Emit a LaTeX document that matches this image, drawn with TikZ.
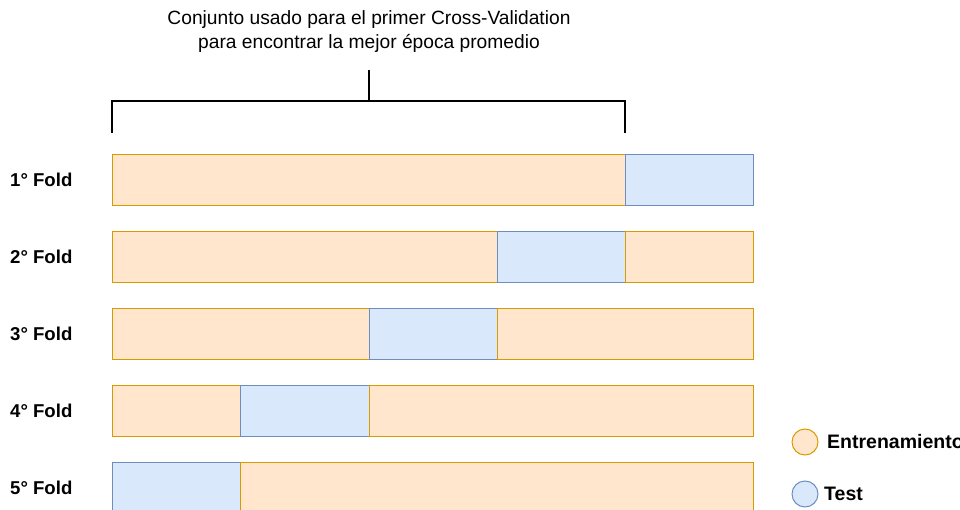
\documentclass[tikz,border=0pt]{standalone}
\usepackage{fontspec}
\setmainfont{Liberation Sans}
\begin{document}
\begin{tikzpicture}[x=1pt,y=-1pt,
  trainbox/.style={draw=orangeS,fill=orangeF,line width=1pt,minimum height=51pt,inner sep=0pt,anchor=north west},
  testbox/.style={draw=blueS,fill=blueF,line width=1pt,minimum height=51pt,inner sep=0pt,anchor=north west},
  foldlbl/.style={font=\bfseries\fontsize{18.6}{20}\selectfont,anchor=west,inner sep=0pt},
  legtxt/.style={font=\bfseries\fontsize{19.5}{20}\selectfont,anchor=west,inner sep=0pt},
  bracket/.style={line width=2.2pt}
]
\definecolor{orangeF}{HTML}{FFE6CC}
\definecolor{orangeS}{HTML}{D79B00}
\definecolor{blueF}{HTML}{DAE8FC}
\definecolor{blueS}{HTML}{6C8EBF}
\useasboundingbox (0,0) rectangle (960,510);
\clip (0,0) rectangle (960,510);
% title
\node[align=center,font=\fontsize{19.2}{24}\selectfont,inner sep=0pt] (title) at (369,32) {Conjunto usado para el primer Cross-Validation\\para encontrar la mejor época promedio};
% bracket
\coordinate (bl) at (112,133);
\coordinate (blt) at (112,101);
\coordinate (brt) at (625,101);
\coordinate (br) at (625,133);
\coordinate (bm) at (369,101);
\coordinate (bs) at (369,70);
\draw[bracket] (bl) -- (blt) -- (brt) -- (br);
\draw[bracket] (bm) -- (bs);
% row 1
\node[trainbox,minimum width=513pt] (r1a) at (112,154) {};
\node[testbox,minimum width=128pt] (r1b) at (625,154) {};
% row 2
\node[trainbox,minimum width=385pt] (r2a) at (112,231) {};
\node[testbox,minimum width=128pt] (r2b) at (497,231) {};
\node[trainbox,minimum width=128pt] (r2c) at (625,231) {};
% row 3
\node[trainbox,minimum width=257pt] (r3a) at (112,308) {};
\node[testbox,minimum width=128pt] (r3b) at (369,308) {};
\node[trainbox,minimum width=256pt] (r3c) at (497,308) {};
% row 4
\node[trainbox,minimum width=128pt] (r4a) at (112,385) {};
\node[testbox,minimum width=129pt] (r4b) at (240,385) {};
\node[trainbox,minimum width=384pt] (r4c) at (369,385) {};
% row 5
\node[testbox,minimum width=128pt] (r5a) at (112,462) {};
\node[trainbox,minimum width=513pt] (r5b) at (240,462) {};
% labels
\node[foldlbl] (f1) at (10,180) {1° Fold};
\node[foldlbl] (f2) at (10,257) {2° Fold};
\node[foldlbl] (f3) at (10,334) {3° Fold};
\node[foldlbl] (f4) at (10,411) {4° Fold};
\node[foldlbl] (f5) at (10,488) {5° Fold};
% legend
\node[circle,draw=orangeS,fill=orangeF,line width=1pt,minimum size=26pt,inner sep=0pt] (lo) at (805,442) {};
\node[legtxt] (lot) at (827,442) {Entrenamiento};
\node[circle,draw=blueS,fill=blueF,line width=1pt,minimum size=26pt,inner sep=0pt] (lb) at (805,494) {};
\node[legtxt] (lbt) at (824,494) {Test};
\end{tikzpicture}
\end{document}
